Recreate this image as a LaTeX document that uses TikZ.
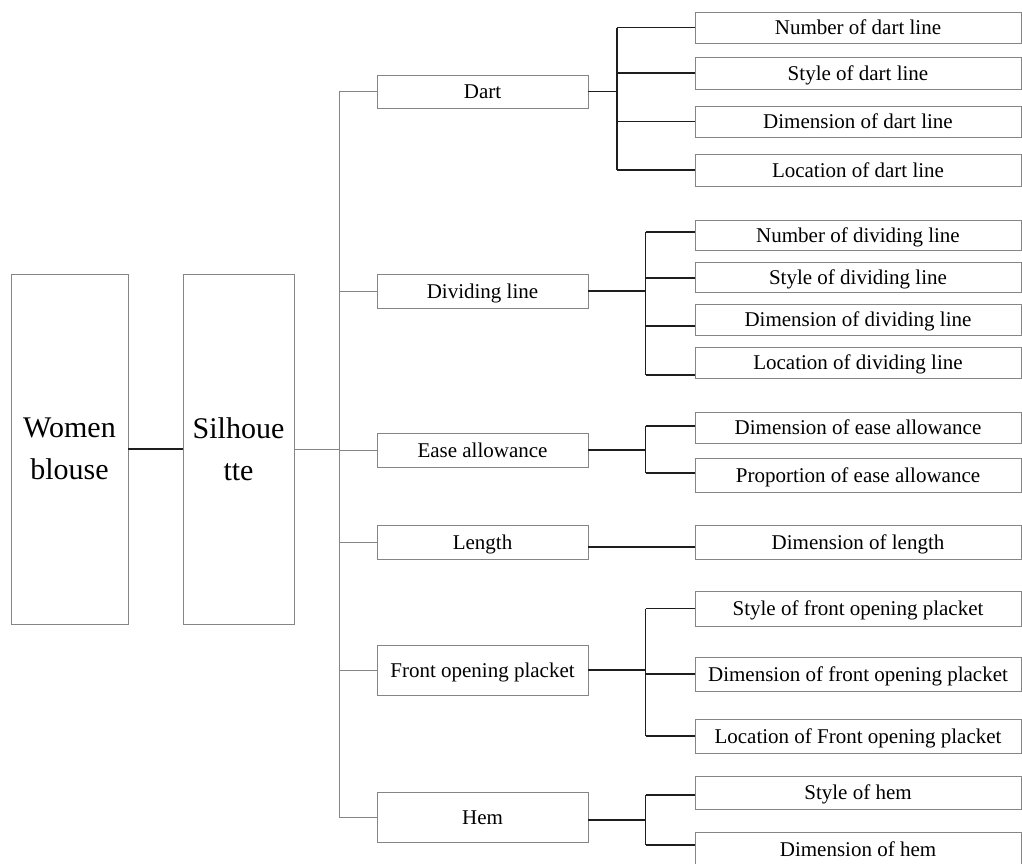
\documentclass[tikz,border=0pt]{standalone}
\usepackage{fontspec}
\setmainfont{Liberation Serif}
\definecolor{boxgray}{HTML}{858585}
\definecolor{linedark}{HTML}{1E1E1E}
\begin{document}
\begin{tikzpicture}[x=1pt,y=-1pt,
  anybox/.style={draw=boxgray, line width=0.9pt, inner sep=0pt, fill=white},
  bigbox/.style={anybox, minimum height=350pt, align=center, font=\fontsize{30}{42}\selectfont},
  txtbox/.style={anybox, text height=14.3pt, text depth=0pt, font=\fontsize{21}{24}\selectfont},
  midbox/.style={txtbox, minimum width=211pt},
  rbox/.style={txtbox, minimum width=326pt},
  dk/.style={draw=linedark, line width=1.4pt},
  gl/.style={draw=boxgray, line width=0.9pt}]
\useasboundingbox (0,0) rectangle (1022,863);

% left boxes
\node[bigbox, minimum width=117pt] (wb) at (69.5,449) {Women\\blouse};
\node[bigbox, minimum width=111pt] (sil) at (238.5,449) {Silhoue\\tte};

% middle boxes
\node[midbox, minimum height=33pt] (dart) at (482.5,91.5) {Dart};
\node[midbox, minimum height=34pt] (div) at (482.5,291) {Dividing line};
\node[midbox, minimum height=34pt] (ease) at (482.5,450) {Ease allowance};
\node[midbox, minimum height=34pt] (len) at (482.5,542) {Length};
\node[midbox, minimum height=50pt] (front) at (482.5,670) {Front opening placket};
\node[midbox, minimum height=50pt] (hem) at (482.5,817) {Hem};

% right boxes
\node[rbox, minimum height=31pt] (d1) at (858,27.5) {Number of dart line};
\node[rbox, minimum height=32pt] (d2) at (858,73) {Style of dart line};
\node[rbox, minimum height=31pt] (d3) at (858,121.5) {Dimension of dart line};
\node[rbox, minimum height=32pt] (d4) at (858,170) {Location of dart line};
\node[rbox, minimum height=30pt] (v1) at (858,235) {Number of dividing line};
\node[rbox, minimum height=30pt] (v2) at (858,277) {Style of dividing line};
\node[rbox, minimum height=31pt] (v3) at (858,319.5) {Dimension of dividing line};
\node[rbox, minimum height=31pt] (v4) at (858,362.5) {Location of dividing line};
\node[rbox, minimum height=31pt] (e1) at (858,427.5) {Dimension of ease allowance};
\node[rbox, minimum height=34pt] (e2) at (858,475) {Proportion of ease allowance};
\node[rbox, minimum height=34pt] (l1) at (858,542) {Dimension of length};
\node[rbox, minimum height=35pt] (f1) at (858,608.5) {Style of front opening placket};
\node[rbox, minimum height=34pt] (f2) at (858,674) {Dimension of front opening placket};
\node[rbox, minimum height=34pt] (f3) at (858,736) {Location of Front opening placket};
\node[rbox, minimum height=33pt] (h1) at (858,792.5) {Style of hem};
\node[rbox, minimum height=34pt] (h2) at (858,849) {Dimension of hem};

% left connectors and trunk
\draw[dk] (wb.east) -- (sil.west);
\coordinate (trunk) at (339,449);
\draw[gl] (sil.east) -- (trunk);
\draw[gl] (dart.west -| trunk) -- (hem.west -| trunk);
\foreach \m in {dart,div,ease,len,front,hem}
  \draw[gl] (\m.west -| trunk) -- (\m.west);

% connection points on the right boxes
\foreach \c/\s in {d1/0,d2/0,d3/0,d4/0,v1/3,v2/-1,v3/-6.5,v4/-12.5,e1/1.5,e2/2,
                   l1/-5,f1/0,f2/0,f3/0,h1/-2.5,h2/4}
  \path ([yshift=\s pt]\c.west) coordinate (\c-c);
\path ([yshift=-5pt]len.east) coordinate (len-c)
      ([yshift=-3pt]hem.east) coordinate (hem-c);

% forks
\coordinate (dfork) at (617,0);
\coordinate (ofork) at (645.5,0);

\draw[dk] (dart.east) -- (dart.east -| dfork);
\draw[dk] (d1-c -| dfork) -- (d4-c -| dfork);
\foreach \c in {d1,d2,d3,d4} \draw[dk] (\c-c -| dfork) -- (\c-c);

\draw[dk] (div.east) -- (div.east -| ofork);
\draw[dk] (v1-c -| ofork) -- (v4-c -| ofork);
\foreach \c in {v1,v2,v3,v4} \draw[dk] (\c-c -| ofork) -- (\c-c);

\draw[dk] (ease.east) -- (ease.east -| ofork);
\draw[dk] (e1-c -| ofork) -- (e2-c -| ofork);
\foreach \c in {e1,e2} \draw[dk] (\c-c -| ofork) -- (\c-c);

\draw[dk] (len-c) -- (l1-c);

\draw[dk] (front.east) -- (front.east -| ofork);
\draw[dk] (f1-c -| ofork) -- (f3-c -| ofork);
\foreach \c in {f1,f2,f3} \draw[dk] (\c-c -| ofork) -- (\c-c);

\draw[dk] (hem-c) -- (hem-c -| ofork);
\draw[dk] (h1-c -| ofork) -- (h2-c -| ofork);
\foreach \c in {h1,h2} \draw[dk] (\c-c -| ofork) -- (\c-c);
\end{tikzpicture}
\end{document}
